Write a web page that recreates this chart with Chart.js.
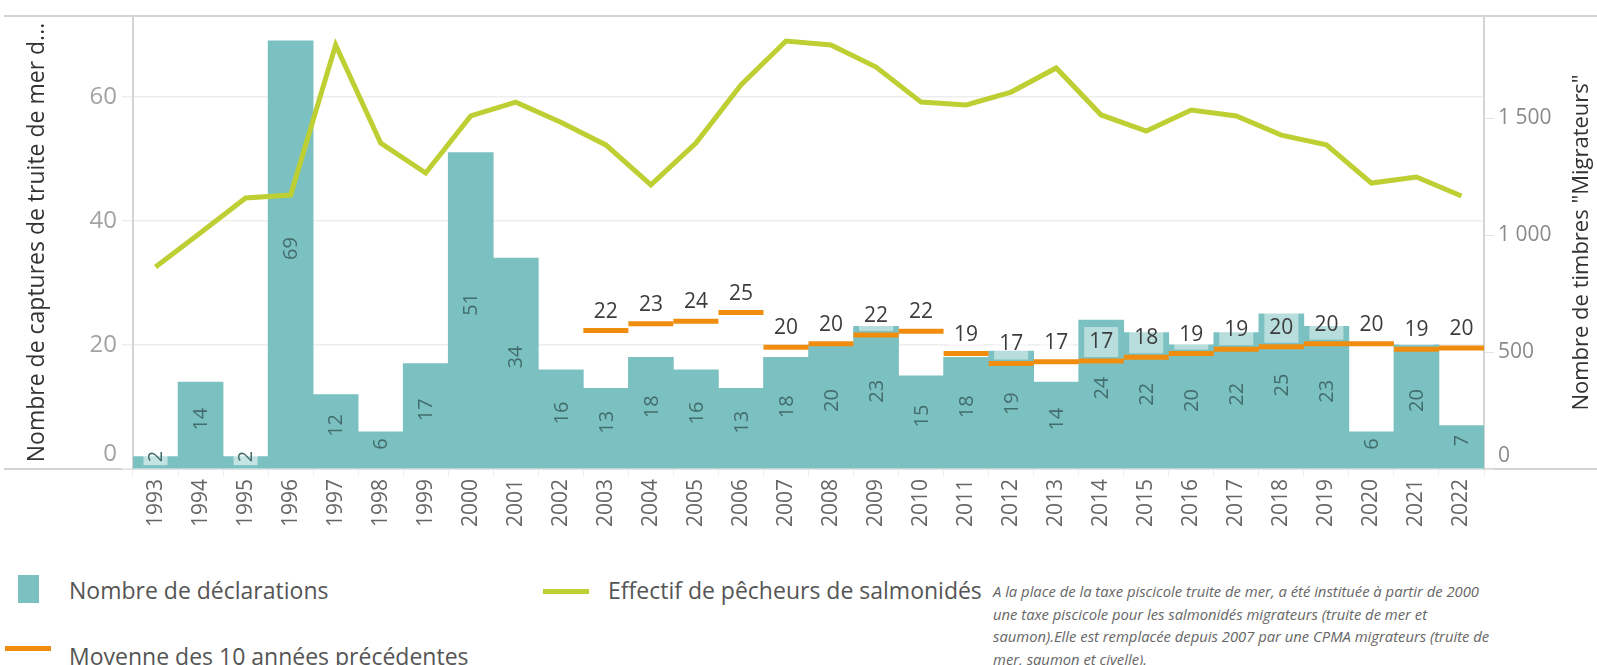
<!DOCTYPE html>
<html lang="fr">
<head>
<meta charset="utf-8">
<title>Truite de mer - déclarations</title>
<script src="https://cdn.jsdelivr.net/npm/chart.js@4.4.1/dist/chart.umd.min.js"></script>
<style>
  html, body { margin: 0; padding: 0; background: #fff; }
  body { width: 1597px; height: 665px; position: relative; overflow: hidden; font-family: "Open Sans", sans-serif; }
  #wrap { position: absolute; left: 0; top: 0; width: 1597px; height: 545px; }
  .leg { position: absolute; font-size: 23px; color: #555; white-space: nowrap; }
  .sw { position: absolute; }
  #note { position: absolute; left: 993px; top: 580px; width: 604px; font-size: 14.8px; line-height: 22.5px; font-style: italic; color: #666; white-space: nowrap; }
</style>
</head>
<body>
<div id="wrap"><canvas id="chart"></canvas></div>

<div class="sw" style="left:18px; top:575px; width:21px; height:28px; background:#7cc1c1;"></div>
<div class="leg" style="left:69px; top:574px;">Nombre de déclarations</div>

<div class="sw" style="left:543px; top:589px; width:46px; height:5px; background:#bdcf32;"></div>
<div class="leg" style="left:608px; top:574px;">Effectif de pêcheurs de salmonidés</div>

<div class="sw" style="left:5px; top:646px; width:46px; height:5px; background:#f08c0e;"></div>
<div class="leg" style="left:69px; top:640px;">Moyenne des 10 années précédentes</div>

<div id="note">A la place de la taxe piscicole truite de mer, a été instituée à partir de 2000<br>une taxe piscicole pour les salmonidés migrateurs (truite de mer et<br>saumon).Elle est remplacée depuis 2007 par une CPMA migrateurs (truite de<br>mer, saumon et civelle).</div>

<script>
// --- données ---
const annees = ['1993','1994','1995','1996','1997','1998','1999','2000','2001','2002',
  '2003','2004','2005','2006','2007','2008','2009','2010','2011','2012',
  '2013','2014','2015','2016','2017','2018','2019','2020','2021','2022'];

const declarations = [2, 14, 2, 69, 12, 6, 17, 51, 34, 16,
  13, 18, 16, 13, 18, 20, 23, 15, 18, 19,
  14, 24, 22, 20, 22, 25, 23, 6, 20, 7];

// moyenne des 10 années précédentes (rien avant 2003)
const moyenne10 = [null, null, null, null, null, null, null, null, null, null,
  22.3, 23.4, 23.8, 25.2, 19.6, 20.2, 21.6, 22.2, 18.6, 17.0,
  17.3, 17.4, 18.0, 18.6, 19.3, 19.7, 20.2, 20.2, 19.3, 19.5];

// effectif de pêcheurs (timbres "Migrateurs")
const pecheurs = [863, 1010, 1158, 1171, 1812, 1393, 1265, 1509, 1568, 1482,
  1385, 1214, 1393, 1641, 1829, 1812, 1718, 1568, 1556, 1611,
  1714, 1513, 1444, 1534, 1509, 1427, 1385, 1222, 1248, 1167];

const ticksGauche = [0, 20, 40, 60];
const ticksDroite = [0, 500, 1000, 1500];

const TEAL = '#7cc1c1';
const VERT = '#bdcf32';
const ORANGE = '#f08c0e';

// le 0 est remonté au-dessus de la ligne de base (ligne vide en dessous)
const texteTick = (txt, v) => (v === 0 ? [txt, ''] : txt);
const sansPadding = (s) => { s.paddingTop = 0; s.paddingBottom = 0; s.paddingLeft = 0; s.paddingRight = 0; };

// étiquettes de valeurs (barres + moyenne) et cadre gris
const etiquettes = {
  id: 'etiquettes',
  beforeDraw(chart) {
    const { ctx, chartArea } = chart;
    ctx.save();
    ctx.strokeStyle = '#d4d4d4';
    ctx.lineWidth = 2;
    ctx.beginPath();
    ctx.moveTo(4, chartArea.top);
    ctx.lineTo(chart.width, chartArea.top);
    ctx.moveTo(4, chartArea.bottom);
    ctx.lineTo(chart.width, chartArea.bottom);
    ctx.stroke();
    ctx.restore();
  },
  afterDatasetsDraw(chart) {
    const { ctx } = chart;
    ctx.save();
    ctx.font = '20px "Open Sans", sans-serif';

    // valeurs dans les barres, texte vertical
    const barres = chart.getDatasetMeta(0);
    barres.data.forEach((el, i) => {
      const txt = String(declarations[i]);
      const w = ctx.measureText(txt).width;
      const h = el.base - el.y;
      const cy = (el.y + el.base) / 2 - 6;
      ctx.save();
      ctx.translate(el.x, cy);
      ctx.rotate(-Math.PI / 2);
      if (w + 6 > h) {
        ctx.fillStyle = 'rgba(255,255,255,0.55)';
        ctx.fillRect(-w / 2 - 3, -12, w + 6, 24);
      }
      ctx.fillStyle = '#436d6d';
      ctx.textAlign = 'center';
      ctx.textBaseline = 'middle';
      ctx.fillText(txt, 0, 1);
      ctx.restore();
    });

    // valeurs de la moyenne, au-dessus des segments
    const moy = chart.getDatasetMeta(2);
    ctx.font = '21px "Open Sans", sans-serif';
    moy.data.forEach((el, i) => {
      const v = moyenne10[i];
      if (v === null) return;
      const txt = String(Math.round(v));
      const w = ctx.measureText(txt).width;
      const cy = el.y - 19;
      ctx.fillStyle = 'rgba(255,255,255,0.45)';
      ctx.fillRect(el.x - w / 2 - 5, cy - 15, w + 10, 30);
      ctx.fillStyle = '#3c3c3c';
      ctx.textAlign = 'center';
      ctx.textBaseline = 'middle';
      ctx.fillText(txt, el.x, cy);
    });

    // titre de l'axe de droite (lu de bas en haut)
    const a = chart.chartArea;
    ctx.save();
    ctx.translate(1582, (a.top + a.bottom) / 2);
    ctx.rotate(-Math.PI / 2);
    ctx.font = '22px "Open Sans", sans-serif';
    ctx.fillStyle = '#333';
    ctx.textAlign = 'center';
    ctx.textBaseline = 'middle';
    ctx.fillText('Nombre de timbres "Migrateurs"', 0, 0);
    ctx.restore();

    ctx.restore();
  }
};

const ctx = document.getElementById('chart').getContext('2d');
new Chart(ctx, {
  data: {
    labels: annees,
    datasets: [
      {
        type: 'bar',
        label: 'Nombre de déclarations',
        data: declarations,
        yAxisID: 'y',
        backgroundColor: TEAL,
        borderWidth: 0,
        barPercentage: 1,
        categoryPercentage: 1,
        order: 3
      },
      {
        type: 'line',
        label: 'Effectif de pêcheurs de salmonidés',
        data: pecheurs,
        yAxisID: 'y1',
        borderColor: VERT,
        borderWidth: 5,
        pointRadius: 0,
        tension: 0,
        order: 1
      },
      {
        type: 'line',
        label: 'Moyenne des 10 années précédentes',
        data: moyenne10,
        yAxisID: 'y',
        showLine: false,
        pointStyle: 'line',
        pointRadius: 22.5,
        pointBorderWidth: 5,
        pointBorderColor: ORANGE,
        pointBackgroundColor: ORANGE,
        order: 2
      }
    ]
  },
  options: {
    responsive: true,
    maintainAspectRatio: false,
    animation: false,
    layout: { autoPadding: false, padding: { top: 16, left: 0, right: 0, bottom: 0 } },
    plugins: {
      legend: { display: false },
      tooltip: { enabled: false }
    },
    scales: {
      x: {
        grid: { display: true, drawOnChartArea: false, offset: true, tickLength: 7, color: '#ececec' },
        border: { display: false },
        ticks: {
          color: '#666',
          font: { family: 'Open Sans', size: 21 },
          minRotation: 90,
          maxRotation: 90,
          padding: 3,
          autoSkip: false
        },
        afterFit: (s) => { sansPadding(s); s.height = 76; }
      },
      y: {
        position: 'left',
        min: 0,
        max: 73,
        afterBuildTicks: (s) => { s.ticks = ticksGauche.map(v => ({ value: v })); },
        grid: { color: '#eeeeee', lineWidth: 1.5, drawTicks: true, tickLength: 11 },
        border: { display: true, color: '#d4d4d4', width: 2 },
        ticks: {
          color: '#a3a3a3',
          font: { family: 'Open Sans', size: 24 },
          padding: 5,
          callback: (v) => texteTick(String(v), v)
        },
        title: {
          display: true,
          text: 'Nombre de captures de truite de mer d...',
          color: '#333',
          font: { family: 'Open Sans', size: 23 },
          padding: { top: 24, bottom: 0 }
        },
        afterFit: (s) => { sansPadding(s); s.width = 133; }
      },
      y1: {
        position: 'right',
        min: 0,
        max: 1936,
        afterBuildTicks: (s) => { s.ticks = ticksDroite.map(v => ({ value: v })); },
        grid: { drawOnChartArea: false, drawTicks: true, tickLength: 10, color: '#e4e4e4' },
        border: { display: true, color: '#d4d4d4', width: 2 },
        ticks: {
          color: '#8a8a8a',
          font: { family: 'Open Sans', size: 21 },
          padding: 4,
          callback: (v) => texteTick(String(v).replace(/\B(?=(\d{3})+(?!\d))/g, ' '), v)
        },
        afterFit: (s) => { sansPadding(s); s.width = 113; }
      }
    }
  },
  plugins: [etiquettes]
});
</script>
</body>
</html>
